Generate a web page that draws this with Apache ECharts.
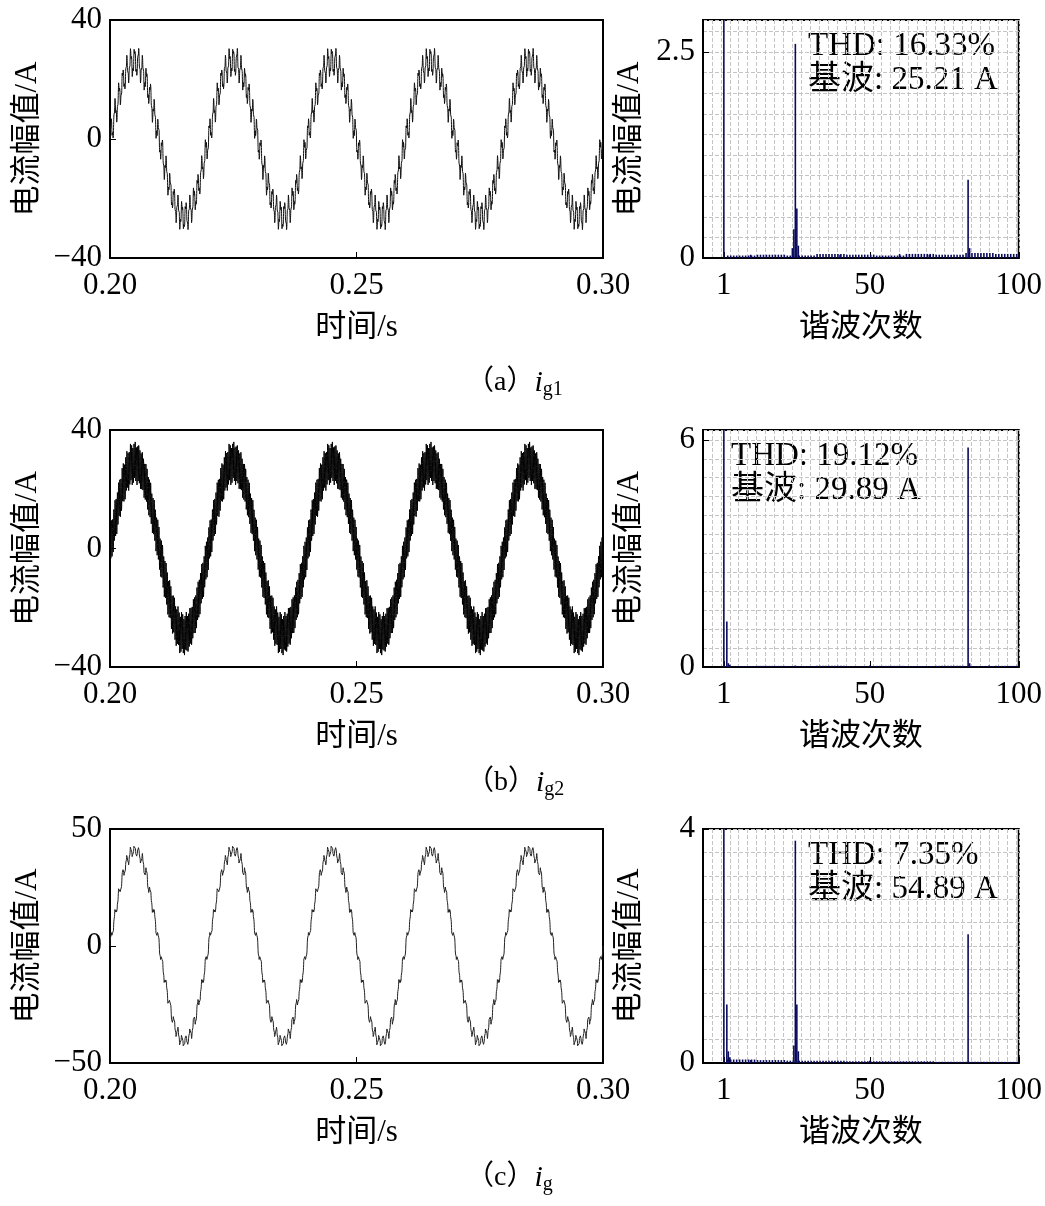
<!DOCTYPE html>
<html lang="zh">
<head>
  <meta charset="UTF-8">
  <script src="https://cdn.jsdelivr.net/npm/echarts@6/dist/echarts.min.js"></script>
  <title>并网电流及谐波</title>
</head>
<body style="margin:0;background:#fff">
  <div id="chart" style="width:1045px;height:1206px;"></div>
  <script>
    // 谐波次数与幅值（从频谱图读取）
    var specA = [[1, 25.21], [24, 0.12], [24.5, 0.35], [25, 2.6], [25.5, 0.6], [26, 0.15], [83, 0.95], [83.5, 0.12], [60, 0.05], [10, 0.04], [40, 0.04], [70, 0.04]];
    var specB = [[1, 29.89], [2, 1.2], [2.5, 0.1], [3, 0.06], [25, 0.04], [50, 0.04], [83, 5.8], [83.5, 0.1], [90, 0.04]];
    var specC = [[1, 54.89], [2, 1.0], [2.5, 0.2], [3, 0.1], [24.5, 0.3], [25, 3.8], [25.5, 1.0], [26, 0.2], [83, 2.2], [50, 0.04], [10, 0.05]];
    // 噪声底（近似读数）
    var floorA = [0.03, 0.04, 0.03, 0.05, 0.04, 0.03, 0.05, 0.04, 0.06, 0.05];
    var floorB = [0.02, 0.03, 0.02, 0.03, 0.02, 0.03, 0.02, 0.03, 0.02, 0.03];
    var floorC = [0.06, 0.05, 0.04, 0.04, 0.03, 0.03, 0.03, 0.02, 0.02, 0.02];

    // 波形的谐波组成：阶次、峰值（从时域图读取）
    var waveOrders = [1, 25, 83];
    var waveAmpA = [26, 3.8, 1.8];
    var waveAmpB = [29, 1.0, 6.5];
    var waveAmpC = [41, 2.5, 1.0];

    var thdText = ['THD: 16.33%', 'THD: 19.12%', 'THD: 7.35%'];
    var baseText = ['基波: 25.21 A', '基波: 29.89 A', '基波: 54.89 A'];
    var captions = [['a', 'g1'], ['b', 'g2'], ['c', 'g']];
    var harmTicks = [1, 50, 100];

    var FONT = '"Liberation Serif", "Noto Sans CJK SC", serif';

    function buildWave(amps) {
      var pts = [];
      var n = 8000;
      for (var i = 0; i <= n; i++) {
        var t = 0.2 + 0.1 * i / n;
        var v = 0;
        for (var k = 0; k < waveOrders.length; k++) {
          v += amps[k] * Math.sin(2 * Math.PI * 50 * waveOrders[k] * (t - 0.2));
        }
        pts.push([t, v]);
      }
      return pts;
    }

    function buildSpec(spec, floor) {
      var d = spec.slice();
      for (var h = 2; h <= 100; h++) {
        d.push([h + 0.3, floor[Math.floor((h - 2) / 10)]]);
      }
      return d;
    }

    var rows = [
      { top: 20, h: 238, ymax: 40, yint: 40, smax: 2.89, sint: 0.25, slab: [0, 2.5], amps: waveAmpA, spec: buildSpec(specA, floorA), color: '#111' },
      { top: 430, h: 237, ymax: 40, yint: 40, smax: 6.26, sint: 0.5, slab: [0, 6], amps: waveAmpB, spec: buildSpec(specB, floorB), color: '#000' },
      { top: 829, h: 234, ymax: 50, yint: 50, smax: 4.0, sint: 0.4, slab: [0, 4], amps: waveAmpC, spec: buildSpec(specC, floorC), color: '#222' }
    ];

    var option = { animation: false, grid: [], xAxis: [], yAxis: [], series: [], graphic: [] };
    var axisLine = { onZero: false, lineStyle: { color: '#000', width: 2 } };
    var labelStyle = { color: '#000', fontSize: 31, fontFamily: FONT };
    var nameStyle = { color: '#000', fontSize: 31, fontFamily: FONT };
    var gridLine = { show: true, lineStyle: { color: '#c4c4c4', type: 'dashed', width: 1 } };
    function minus(v) { return String(v).replace('-', '−'); }

    rows.forEach(function (r, i) {
      option.grid.push({ left: 110, top: r.top, width: 493, height: r.h, show: true, borderColor: '#000', borderWidth: 2 });
      option.grid.push({ left: 703, top: r.top, width: 319, height: r.h, show: true, borderColor: '#000', borderWidth: 2 });
      var gl = 2 * i, gr = 2 * i + 1;
      var xb = option.xAxis.length, yb = option.yAxis.length;

      option.xAxis.push({
        gridIndex: gl, type: 'value', min: 0.2, max: 0.3, interval: 0.05,
        name: '时间/s', nameLocation: 'middle', nameGap: 54, nameTextStyle: nameStyle,
        axisLine: axisLine, axisTick: { inside: true, length: 6, lineStyle: { color: '#000' } },
        axisLabel: { margin: 12, textStyle: labelStyle, formatter: function (v) { return v.toFixed(2); } },
        splitLine: { show: false }
      });
      option.xAxis.push({
        gridIndex: gr, type: 'value', min: -6, max: 100,
        name: '谐波次数', nameLocation: 'middle', nameGap: 54, nameTextStyle: nameStyle,
        axisLine: axisLine,
        axisTick: { customValues: harmTicks, inside: true, length: 6, lineStyle: { color: '#000' } },
        axisLabel: { customValues: harmTicks, margin: 12, textStyle: labelStyle },
        splitLine: { show: false }
      });
      // 频谱背景网格用的隐藏坐标轴
      option.xAxis.push({
        gridIndex: gr, type: 'value', min: -6, max: 100, interval: 3, position: 'top',
        axisLine: { show: false }, axisTick: { show: false }, axisLabel: { show: false }, splitLine: gridLine
      });
      option.yAxis.push({
        gridIndex: gl, type: 'value', min: -r.ymax, max: r.ymax, interval: r.yint,
        name: '电流幅值/A', nameLocation: 'middle', nameGap: 67, nameTextStyle: nameStyle,
        axisLine: axisLine, axisTick: { inside: true, length: 6, lineStyle: { color: '#000' } },
        axisLabel: { margin: 8, textStyle: labelStyle, formatter: minus }, splitLine: { show: false }
      });
      option.yAxis.push({
        gridIndex: gr, type: 'value', min: 0, max: r.smax,
        name: '电流幅值/A', nameLocation: 'middle', nameGap: 58, nameTextStyle: nameStyle,
        axisLine: axisLine,
        axisTick: { customValues: r.slab, inside: true, length: 6, lineStyle: { color: '#000' } },
        axisLabel: { customValues: r.slab, margin: 8, textStyle: labelStyle },
        splitLine: { show: false }
      });
      option.yAxis.push({
        gridIndex: gr, type: 'value', min: 0, max: r.smax, interval: r.sint, position: 'right',
        axisLine: { show: false }, axisTick: { show: false }, axisLabel: { show: false }, splitLine: gridLine
      });

      option.series.push({
        type: 'line', xAxisIndex: xb, yAxisIndex: yb, data: buildWave(r.amps),
        showSymbol: false, lineStyle: { color: r.color, width: 1 }, silent: true
      });
      option.series.push({
        type: 'bar', xAxisIndex: xb + 1, yAxisIndex: yb + 1, data: r.spec,
        barWidth: 1.6, itemStyle: { color: '#0b0b5e' }, clip: true, silent: true
      });

      var tx = i === 1 ? 731 : 808;
      option.graphic.push({ type: 'text', left: tx, top: r.top + 10, style: { text: thdText[i], font: '33px ' + FONT, fill: '#000' } });
      option.graphic.push({ type: 'text', left: tx, top: r.top + 44, style: { text: baseText[i], font: '33px ' + FONT, fill: '#000' } });

      var capY = [368, 768, 1163][i];
      option.graphic.push({
        type: 'text', left: 466, top: capY,
        style: {
          text: '{n|（' + captions[i][0] + '）}{i|i}{s|' + captions[i][1] + '}',
          rich: {
            n: { font: '28px ' + FONT, fill: '#000' },
            i: { font: 'italic 30px ' + FONT, fill: '#000' },
            s: { font: '20px ' + FONT, fill: '#000', padding: [14, 0, 0, 0] }
          }
        }
      });
    });

    echarts.init(document.getElementById('chart')).setOption(option);
  </script>
</body>
</html>
